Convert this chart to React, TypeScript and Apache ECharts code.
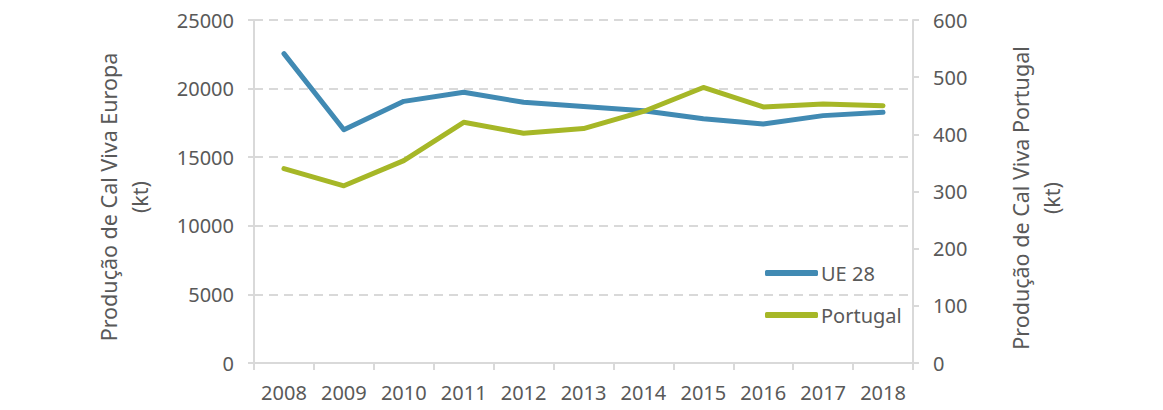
import React, { useEffect, useRef } from "react";
import * as echarts from "echarts";

const years = ["2008", "2009", "2010", "2011", "2012", "2013", "2014", "2015", "2016", "2017", "2018"];
const ue28 = [22550, 17000, 19070, 19730, 19000, 18700, 18390, 17810, 17420, 18030, 18270];
const portugal = [340, 310, 354, 421, 402, 410, 440, 482, 448, 453, 450];
const leftTitle = "Produção de Cal Viva Europa\n(kt)";
const rightTitle = "Produção de Cal Viva Portugal\n(kt)";

const FONT = "'Noto Sans', 'Open Sans', sans-serif";
const GRAY = "#595959";
const LINE = "#D9D9D9";
const BLUE = "#418AB3";
const GREEN = "#A6B727";

export default function App() {
  const ref = useRef<HTMLDivElement>(null);
  useEffect(() => {
    if (!ref.current) return;
    const chart = echarts.init(ref.current, undefined, { renderer: "svg" });
    chart.setOption({
      animation: false,
      backgroundColor: "#ffffff",
      textStyle: { fontFamily: FONT },
      grid: { left: 254, right: 250, top: 20, height: 343 },
      legend: {
        orient: "vertical",
        left: 765,
        top: 263,
        padding: 0,
        itemWidth: 53,
        itemHeight: 6,
        itemGap: 22,
        icon: "roundRect",
        textStyle: { fontSize: 20, color: GRAY, fontFamily: FONT, padding: [0, 0, 0, -2] },
        data: ["UE 28", "Portugal"],
      },
      xAxis: [
        {
          type: "category",
          data: years,
          boundaryGap: true,
          axisLine: { show: true, lineStyle: { color: LINE, width: 2 } },
          axisTick: { show: true, length: 7, alignWithLabel: false, lineStyle: { color: LINE, width: 2 } },
          axisLabel: { color: GRAY, fontSize: 20, margin: 19, fontFamily: FONT },
          splitLine: { show: false },
        },
        {
          type: "category",
          data: years,
          position: "top",
          axisLine: { show: true, lineStyle: { color: LINE, width: 2 } },
          axisTick: { show: false },
          axisLabel: { show: false },
          splitLine: { show: false },
        },
      ],
      yAxis: [
        {
          type: "value",
          min: 0,
          max: 25000,
          interval: 5000,
          position: "left",
          axisLine: { show: true, lineStyle: { color: LINE, width: 2 } },
          axisTick: { show: true, length: 6, lineStyle: { color: LINE, width: 2 } },
          axisLabel: { color: GRAY, fontSize: 20, margin: 20, fontFamily: FONT, formatter: (v: number) => String(v) },
          splitLine: { show: true, lineStyle: { color: LINE, width: 2, type: [9, 6] } },
        },
        {
          type: "value",
          min: 0,
          max: 600,
          interval: 100,
          position: "right",
          axisLine: { show: true, lineStyle: { color: LINE, width: 2 } },
          axisTick: { show: true, length: 6, lineStyle: { color: LINE, width: 2 } },
          axisLabel: { color: GRAY, fontSize: 20, margin: 20, fontFamily: FONT, formatter: (v: number) => String(v) },
          splitLine: { show: false },
        },
      ],
      graphic: [
        {
          type: "text",
          x: 124,
          y: 197,
          rotation: Math.PI / 2,
          style: {
            text: leftTitle,
            fill: GRAY,
            fontSize: 21.5,
            fontFamily: FONT,
            align: "center",
            verticalAlign: "middle",
            lineHeight: 31,
          },
        },
        {
          type: "text",
          x: 1036,
          y: 198,
          rotation: Math.PI / 2,
          style: {
            text: rightTitle,
            fill: GRAY,
            fontSize: 21.5,
            fontFamily: FONT,
            align: "center",
            verticalAlign: "middle",
            lineHeight: 31,
          },
        },
      ],
      series: [
        {
          name: "UE 28",
          type: "line",
          data: ue28,
          yAxisIndex: 0,
          symbol: "none",
          itemStyle: { color: BLUE },
          lineStyle: { color: BLUE, width: 5, cap: "round", join: "round" },
          z: 3,
        },
        {
          name: "Portugal",
          type: "line",
          data: portugal,
          yAxisIndex: 1,
          symbol: "none",
          itemStyle: { color: GREEN },
          lineStyle: { color: GREEN, width: 5, cap: "round", join: "round" },
          z: 4,
        },
      ],
    });
    return () => chart.dispose();
  }, []);
  return <div ref={ref} style={{ position: "fixed", left: 0, top: 0, width: 1163, height: 410 }} />;
}
